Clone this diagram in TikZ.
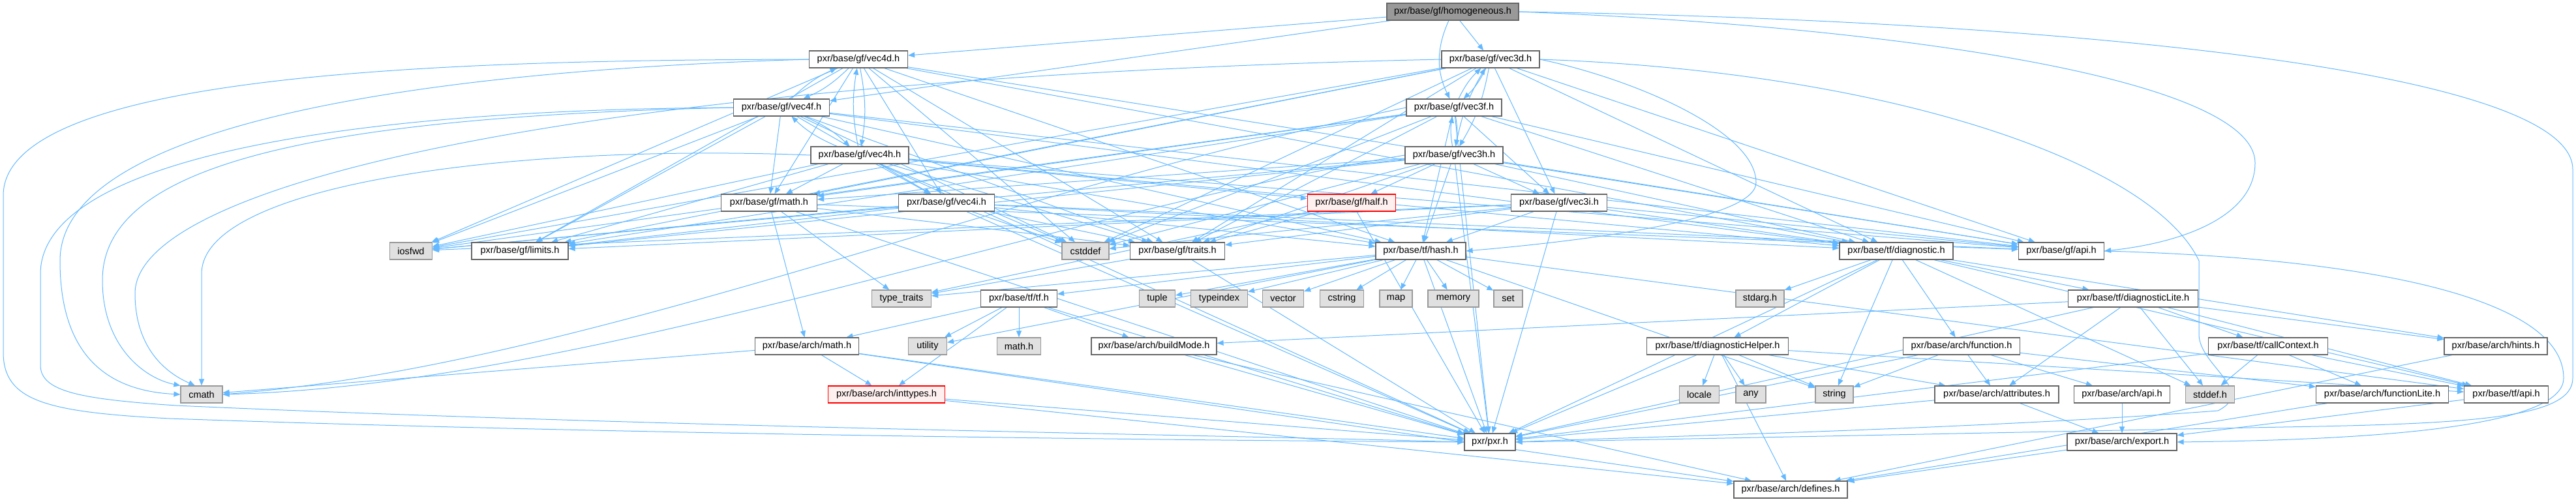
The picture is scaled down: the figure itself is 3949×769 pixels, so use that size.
\documentclass[tikz,border=0pt]{standalone}
\usepackage{fontspec}
\setmainfont{Liberation Sans}
\usetikzlibrary{arrows.meta,backgrounds}
\definecolor{edgeblue}{HTML}{63B8FF}
\begin{document}
\begin{tikzpicture}[x=1pt,y=-1pt,
    file/.style={draw=black!60, fill=white, line width=1.2pt, minimum height=26pt,
      inner sep=0pt, font=\fontsize{14.5}{16}\selectfont},
    sys/.style={file, draw=black!40, fill=black!12},
    root/.style={file, fill=black!40},
    cut/.style={file, draw=red, fill=red!6},
    dep/.style={draw=edgeblue, line width=1pt, -{Triangle[length=10pt,width=8pt]}}]
  \useasboundingbox (0,0) rectangle (3949,769);

  %Nodes
  \node[root, minimum width=202pt] (homog) at (2227,18) {pxr/base/gf/homogeneous.h};
  \node[file, minimum width=151pt] (v4d) at (1316,91) {pxr/base/gf/vec4d.h};
  \node[file, minimum width=150pt] (v3d) at (2285,91) {pxr/base/gf/vec3d.h};
  \node[file, minimum width=147pt] (v4f) at (1198,165) {pxr/base/gf/vec4f.h};
  \node[file, minimum width=146pt] (v3f) at (2229,165) {pxr/base/gf/vec3f.h};
  \node[file, minimum width=150pt] (v4h) at (1318,238) {pxr/base/gf/vec4h.h};
  \node[file, minimum width=150pt] (v3h) at (2229,238) {pxr/base/gf/vec3h.h};
  \node[file, minimum width=147pt] (gfmath) at (1179,311) {pxr/base/gf/math.h};
  \node[file, minimum width=147pt] (v4i) at (1451,311) {pxr/base/gf/vec4i.h};
  \node[cut, minimum width=135pt] (half) at (2072,311) {pxr/base/gf/half.h};
  \node[file, minimum width=147pt] (v3i) at (2390,311) {pxr/base/gf/vec3i.h};
  \node[sys, minimum width=65pt] (iosfwd) at (630,385) {iosfwd};
  \node[file, minimum width=148pt] (limits) at (797,385) {pxr/base/gf/limits.h};
  \node[sys, minimum width=72pt] (cstddef) at (1664,385) {cstddef};
  \node[file, minimum width=145pt] (traits) at (1805,385) {pxr/base/gf/traits.h};
  \node[file, minimum width=138pt] (hash) at (2178,385) {pxr/base/tf/hash.h};
  \node[file, minimum width=174pt] (diagnostic) at (2907,385) {pxr/base/tf/diagnostic.h};
  \node[file, minimum width=131pt] (gfapi) at (3160,385) {pxr/base/gf/api.h};
  \node[sys, minimum width=91pt] (typetraits) at (1382,458) {type\_traits};
  \node[file, minimum width=117pt] (tftf) at (1562,458) {pxr/base/tf/tf.h};
  \node[sys, minimum width=55pt] (tuple) at (1774,458) {tuple};
  \node[sys, minimum width=87pt] (typeindex) at (1869,458) {typeindex};
  \node[sys, minimum width=63pt] (vector) at (1967,458) {vector};
  \node[sys, minimum width=67pt] (cstring) at (2057,458) {cstring};
  \node[sys, minimum width=50pt] (map) at (2140,458) {map};
  \node[sys, minimum width=78pt] (memory) at (2228,458) {memory};
  \node[sys, minimum width=44pt] (set) at (2312,458) {set};
  \node[sys, minimum width=74pt] (stdarg) at (2698,458) {stdarg.h};
  \node[file, minimum width=199pt] (diaglite) at (3270,458) {pxr/base/tf/diagnosticLite.h};
  \node[file, minimum width=159pt] (archmath) at (1237,531) {pxr/base/arch/math.h};
  \node[sys, minimum width=59pt] (utility) at (1422,531) {utility};
  \node[sys, minimum width=67pt] (mathh) at (1562,531) {math.h};
  \node[file, minimum width=192pt] (buildmode) at (1769,531) {pxr/base/arch/buildMode.h};
  \node[file, minimum width=217pt] (diaghelper) at (2633,531) {pxr/base/tf/diagnosticHelper.h};
  \node[file, minimum width=179pt] (function) at (3007,531) {pxr/base/arch/function.h};
  \node[file, minimum width=183pt] (callcontext) at (3477,531) {pxr/base/tf/callContext.h};
  \node[file, minimum width=158pt] (hints) at (3826,531) {pxr/base/arch/hints.h};
  \node[sys, minimum width=64pt] (cmath) at (309,605) {cmath};
  \node[cut, minimum width=179pt] (inttypes) at (1359,605) {pxr/base/arch/inttypes.h};
  \node[sys, minimum width=61pt] (locale) at (2605,605) {locale};
  \node[sys, minimum width=46pt] (any) at (2684,605) {any};
  \node[sys, minimum width=58pt] (string) at (2812,605) {string};
  \node[file, minimum width=190pt] (attributes) at (3061,605) {pxr/base/arch/attributes.h};
  \node[file, minimum width=147pt] (archapi) at (3253,605) {pxr/base/arch/api.h};
  \node[sys, minimum width=75pt] (stddef) at (3388,605) {stddef.h};
  \node[file, minimum width=203pt] (functionlite) at (3652,605) {pxr/base/arch/functionLite.h};
  \node[file, minimum width=129pt] (tfapi) at (3842,605) {pxr/base/tf/api.h};
  \node[file, minimum width=78pt] (pxr) at (2284,678) {pxr/pxr.h};
  \node[file, minimum width=168pt] (export) at (3253,678) {pxr/base/arch/export.h};
  \node[file, minimum width=174pt] (defines) at (2745,751) {pxr/base/arch/defines.h};

  \begin{scope}[on background layer]
  %Root
  \foreach \t in {v4d,v4f,v3d} \draw[dep] (homog) -- (\t);
  \draw[dep] (homog) to[bend right=25] (v3f);
  \draw[dep] (homog.east) .. controls (2900,40) and (3457,120) .. (3457,250)
    .. controls (3457,330) and (3350,372) .. (gfapi.east);
  \draw[dep] (homog.east) .. controls (3100,30) and (3944,100) .. (3944,260) -- (3944,580)
    .. controls (3944,640) and (3800,650) .. (3500,655)
    .. controls (3000,665) and (2500,675) .. (pxr.east);

  %Vectors among themselves
  \foreach \a/\b in {v4d/v4f,v4d/v4h,v4f/v4h,v3d/v3f,v3d/v3h,v3f/v3h} {
    \draw[dep] (\a) to[bend left=10] (\b);
    \draw[dep] (\b) to[bend left=10] (\a);
  }
  \foreach \s in {v4d,v4f,v4h} \draw[dep] (\s) -- (v4i);
  \foreach \s in {v3d,v3f,v3h} \draw[dep] (\s) -- (v3i);
  \foreach \s in {v4h,v3h} \draw[dep] (\s) -- (half);

  %Vectors to common headers
  \foreach \s in {v4d,v4f,v4h,v3d,v3f,v3h}
    \foreach \t in {gfmath,limits,iosfwd,cstddef,traits,diagnostic,gfapi}
      \draw[dep] (\s) -- (\t);
  \foreach \s in {v4d,v4f,v4h,v3f,v3h} \draw[dep] (\s) -- (hash);
  \foreach \s in {v4i,v3i}
    \foreach \t in {limits,iosfwd,cstddef,traits,hash,diagnostic,gfapi,pxr}
      \draw[dep] (\s) -- (\t);
  \foreach \s in {v4h,v3f,v3h} \draw[dep] (\s) -- (pxr);
  \draw[dep] (v3d.east) .. controls (2500,120) and (2692,200) .. (2692,280)
    .. controls (2692,340) and (2400,372) .. (hash.east);
  \draw[dep] (v3d.east) .. controls (2900,110) and (3300,250) .. (3371,400) -- (3371,513)
    .. controls (3371,560) and (3460,600) .. (3400,630)
    .. controls (3000,660) and (2500,670) .. (pxr.east);
  \draw[dep] (v4d.west) .. controls (700,92) and (5,110) .. (5,300) -- (5,540)
    .. controls (5,615) and (70,632) .. (260,642)
    .. controls (1000,668) and (1900,676) .. (pxr.west);
  \draw[dep] (v4f.west) .. controls (500,168) and (62,250) .. (62,420) -- (62,560)
    .. controls (62,600) and (120,612) .. (270,622)
    .. controls (1000,655) and (1900,668) .. (pxr.west);

  %Into cmath
  \draw[dep] (v4d.west) .. controls (600,110) and (92,200) .. (92,400)
    .. controls (92,560) and (180,600) .. (cmath.west);
  \draw[dep] (v4f.west) .. controls (450,180) and (157,260) .. (157,430)
    .. controls (157,530) and (220,580) .. (cmath.north west);
  \draw[dep] (v3d.west) .. controls (900,120) and (207,280) .. (207,450)
    .. controls (207,530) and (250,570) .. ([xshift=-10pt]cmath.north);
  \draw[dep] (v4h.west) .. controls (800,220) and (309,280) .. (309,420) -- (cmath.north);
  \draw[dep] (v3f.west) .. controls (1500,300) and (900,560) .. (cmath.east);
  \draw[dep] (v3h.west) .. controls (1600,330) and (900,590) .. (cmath.east);
  \draw[dep] (archmath) -- (cmath);

  %gf headers
  \foreach \t in {pxr,traits,typetraits} \draw[dep] (half) -- (\t);
  \foreach \t in {archmath,gfapi,traits,typetraits,pxr} \draw[dep] (gfmath) -- (\t);
  \foreach \t in {pxr,typetraits} \draw[dep] (traits) -- (\t);
  \draw[dep] (gfapi.east) .. controls (3600,395) and (3930,450) .. (3930,580)
    .. controls (3930,660) and (3600,675) .. (export.east);

  %tf and arch headers
  \foreach \t in {tftf,cstring,map,memory,set,tuple,typeindex,vector,typetraits,utility,string,tfapi,pxr}
    \draw[dep] (hash) -- (\t);
  \foreach \t in {archmath,utility,inttypes,mathh,buildmode,pxr} \draw[dep] (tftf) -- (\t);
  \foreach \t in {inttypes,pxr,defines} \draw[dep] (archmath) -- (\t);
  \foreach \t in {pxr,defines} \draw[dep] (inttypes) -- (\t);
  \foreach \t in {pxr,defines} \draw[dep] (buildmode) -- (\t);
  \foreach \t in {stdarg,diaghelper,string,function,diaglite,stddef,hints,tfapi,pxr}
    \draw[dep] (diagnostic) -- (\t);
  \foreach \t in {callcontext,stddef,attributes,hints,tfapi,buildmode,pxr}
    \draw[dep] (diaglite) -- (\t);
  \foreach \t in {stddef,functionlite,tfapi,pxr} \draw[dep] (callcontext) -- (\t);
  \foreach \t in {locale,any,string,attributes,defines,tfapi,pxr} \draw[dep] (diaghelper) -- (\t);
  \foreach \t in {string,attributes,archapi,functionlite,pxr} \draw[dep] (function) -- (\t);
  \foreach \t in {export,pxr} \draw[dep] (attributes) -- (\t);
  \foreach \s in {archapi,tfapi} \draw[dep] (\s) -- (export);
  \foreach \s in {hints,functionlite,export} \draw[dep] (\s) -- (defines);
  \end{scope}
\end{tikzpicture}
\end{document}
